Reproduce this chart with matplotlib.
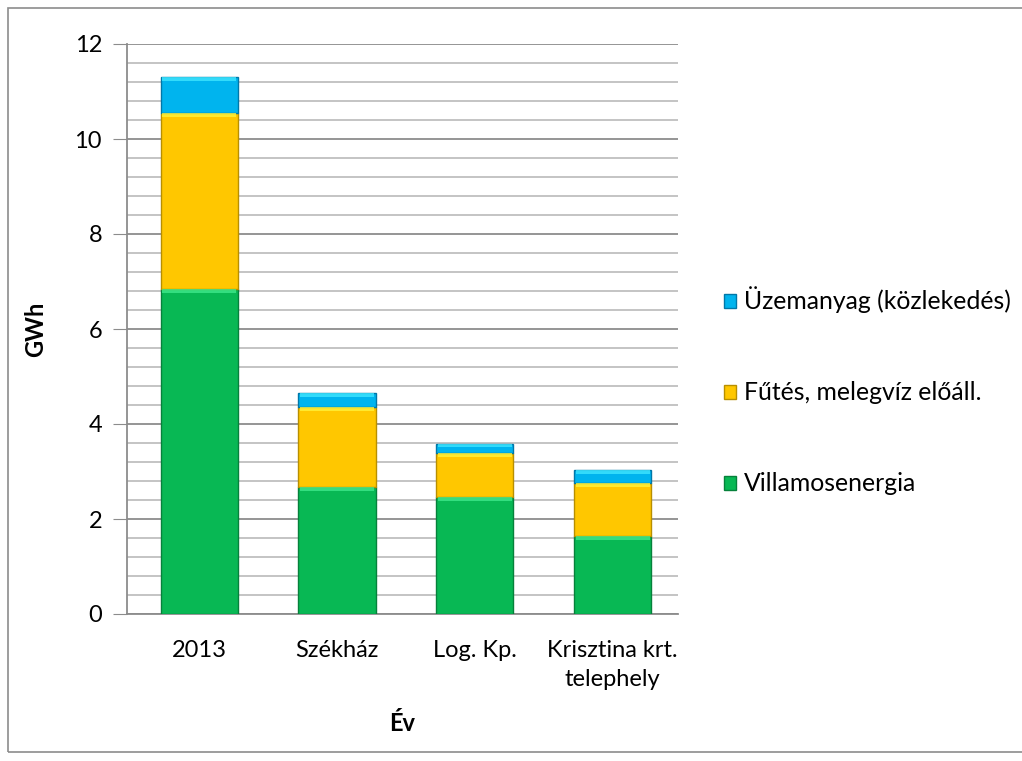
import matplotlib
matplotlib.use("Agg")
import matplotlib.pyplot as plt
from matplotlib.patches import Rectangle
from matplotlib.ticker import MultipleLocator
import numpy as np

categories = ["2013", "Székház", "Log. Kp.", "Krisztina krt.\ntelephely"]
villamos = [6.84, 2.67, 2.46, 1.64]
futes = [3.71, 1.69, 0.93, 1.12]
uzemanyag = [0.76, 0.29, 0.19, 0.27]
series_names = ["Villamosenergia", "Fűtés, melegvíz előáll.", "Üzemanyag (közlekedés)"]

plt.rcParams['font.family'] = ['Lato', 'DejaVu Sans']
FS = 17

fig = plt.figure(figsize=(10.22, 7.61), dpi=100)
ax = fig.add_axes([127/1022, 1-614/761, (678-127)/1022, (614-44)/761])

# outer chart border
fig.patches.append(Rectangle((8/1022, 1-752/761), 1.2, (752-8)/761, transform=fig.transFigure,
                             fill=False, edgecolor='#8c8c8c', linewidth=1.2, zorder=0))

x = np.arange(len(categories))
w = 0.56
colors = ['#08B854', '#FFC700', '#00B4EE']
edges = ['#06813b', '#b88f00', '#0077a8']
highlights = ['#3ee88a', '#fff23a', '#3fe6ff']
bottoms = np.zeros(len(categories))
handles = []
for vals, c, e, hl, name in zip([villamos, futes, uzemanyag], colors, edges, highlights, series_names):
    vals = np.array(vals)
    b = ax.bar(x + 0.025, vals, w, bottom=bottoms, color=c, edgecolor=e, linewidth=1.0, zorder=3, label=name)
    # bevel highlight along top of each segment
    hh = np.minimum(0.09, vals * 0.3)
    ax.bar(x + 0.025, hh, w * 0.96, bottom=bottoms + vals - hh,
           color=hl, linewidth=0, zorder=4, alpha=0.8)
    handles.append(b)
    bottoms = bottoms + vals

ax.set_xlim(-0.5, len(categories) - 0.5)
ax.set_ylim(0, 12)
ax.yaxis.set_major_locator(MultipleLocator(2))
ax.yaxis.set_minor_locator(MultipleLocator(0.4))
ax.grid(which='major', axis='y', color='#8c8c8c', linewidth=1.3, zorder=0)
ax.grid(which='minor', axis='y', color='#bfbfbf', linewidth=1.3, zorder=0)
ax.set_xticks(x + 0.025)
ax.set_xticklabels(categories, fontsize=FS, linespacing=1.45)
ax.tick_params(axis='x', length=0, pad=19)
ax.tick_params(axis='y', which='major', length=10, color='#8c8c8c', labelsize=FS, pad=8)
ax.tick_params(axis='y', which='minor', length=0)
for s in ['top', 'right']:
    ax.spines[s].set_visible(False)
for s in ['left', 'bottom']:
    ax.spines[s].set_color('#8c8c8c')
    ax.spines[s].set_linewidth(1.3)

ax.set_ylabel("GWh", fontsize=FS, fontweight='bold', labelpad=20)
ax.set_xlabel("Év", fontsize=FS, fontweight='bold', labelpad=16)

leg = fig.legend(handles[::-1], series_names[::-1], loc='center left',
                 bbox_to_anchor=(724/1022, 1-391/761), frameon=False, fontsize=17.8,
                 handlelength=0.5, handleheight=0.5, handletextpad=0.3, labelspacing=2.75,
                 borderaxespad=0, borderpad=0)

fig.savefig("out.png", dpi=100)
